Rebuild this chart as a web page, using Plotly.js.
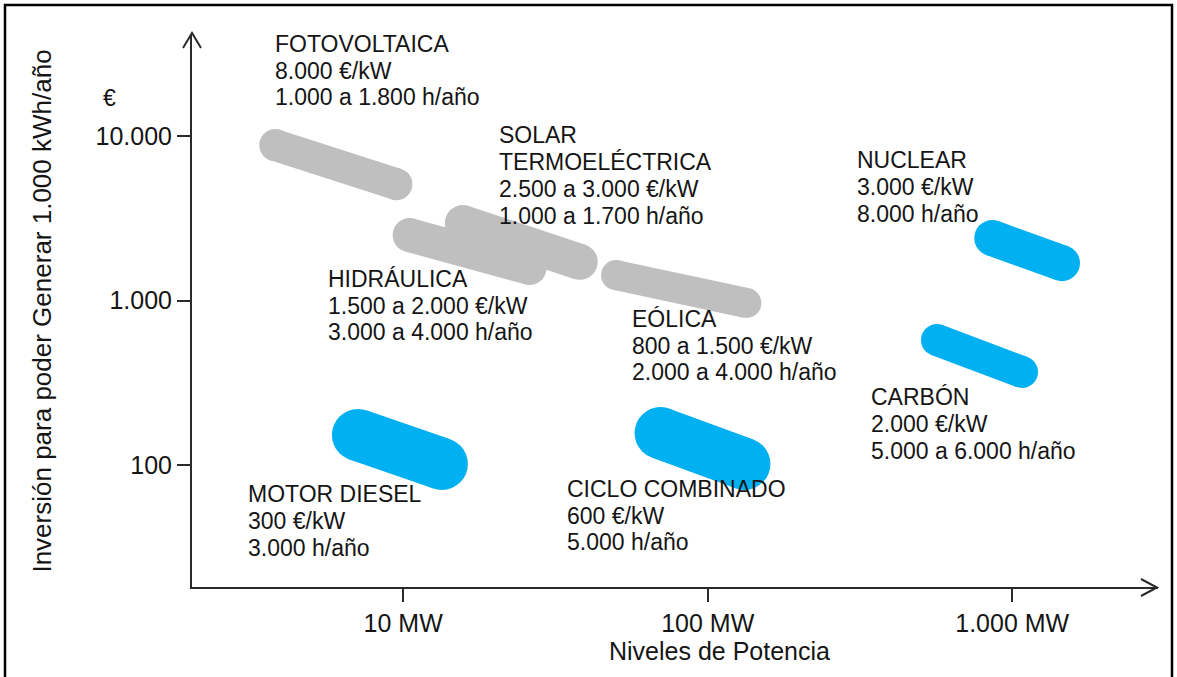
<!DOCTYPE html>
<html>
<head>
<meta charset="utf-8">
<script src="https://cdn.plot.ly/plotly-3.0.1.min.js"></script>
<style>html,body{margin:0;padding:0;background:#fff}#chart{width:1177px;height:677px}</style>
</head>
<body>
<div id="chart"></div>
<script>
// ---- data ----
const techNames = ['FOTOVOLTAICA', 'SOLAR\nTERMOELÉCTRICA', 'HIDRÁULICA', 'EÓLICA', 'NUCLEAR', 'CARBÓN', 'MOTOR DIESEL', 'CICLO COMBINADO'];
const costText = ['8.000 €/kW', '2.500 a 3.000 €/kW', '1.500 a 2.000 €/kW', '800 a 1.500 €/kW', '3.000 €/kW', '2.000 €/kW', '300 €/kW', '600 €/kW'];
const hoursText = ['1.000 a 1.800 h/año', '1.000 a 1.700 h/año', '3.000 a 4.000 h/año', '2.000 a 4.000 h/año', '8.000 h/año', '5.000 a 6.000 h/año', '3.000 h/año', '5.000 h/año'];
const techGroup = ['renovable', 'renovable', 'renovable', 'renovable', 'convencional', 'convencional', 'convencional', 'convencional'];
const powerStartMW = [3.8, 15.7, 10.5, 50, 860, 566, 7.1, 70];
const powerEndMW = [9.5, 38, 26, 134, 1457, 1077, 13.4, 132];
const investStart = [8800, 2960, 2500, 1430, 2400, 577, 153, 157];
const investEnd = [5100, 1720, 1580, 968, 1690, 369, 102, 102];
const xTickVals = [10, 100, 1000];
const xTickText = ['10 MW', '100 MW', '1.000 MW'];
const yTickVals = [100, 1000, 10000];
const yTickText = ['100', '1.000', '10.000'];
const xTitle = 'Niveles de Potencia';
const yTitle = 'Inversión para poder Generar 1.000 kWh/año';
const yUnit = '€';

// ---- styles / layout ----
const FONT = 'Liberation Sans, Arial, Helvetica, sans-serif';
const TXT = '#151515';
const AX = '#2a2a2a';
const groupColor = {renovable: '#BFBFBF', convencional: '#00B0F0'};
const bandWidth = [32, 36, 34, 30, 36, 32, 52, 52];
// label block positions in pixels (left x, baseline of first line)
const labelPos = [[275, 51.7], [499, 143.3], [328, 286.7], [632, 326.7], [857, 168.5], [871, 405.5], [248, 502.5], [566.7, 496.7]];
const LINE_H = 26.9, LFS = 23;

const W = 1177, H = 677;
const PL = 192, PR = 1158, PT = 35, PB = 587;
const px = v => (v - PL) / (PR - PL);
const py = v => (PB - v) / (PB - PT);

const traces = techNames.map((n, i) => ({
  type: 'scatter', mode: 'lines+markers',
  x: [powerStartMW[i], powerEndMW[i]],
  y: [investStart[i], investEnd[i]],
  line: {color: groupColor[techGroup[i]], width: bandWidth[i]},
  marker: {color: groupColor[techGroup[i]], size: bandWidth[i], line: {width: 0}},
  name: n.replace('\n', ' '), hoverinfo: 'skip', showlegend: false
}));

const annotations = [];
techNames.forEach((n, i) => {
  const lines = n.split('\n').concat([costText[i], hoursText[i]]);
  lines.forEach((t, k) => {
    const base = labelPos[i][1] + k * LINE_H;
    annotations.push({
      xref: 'paper', yref: 'paper', x: px(labelPos[i][0] - 2), y: py(base - 0.35 * LFS),
      xanchor: 'left', yanchor: 'middle', text: t, showarrow: false,
      font: {family: FONT, size: LFS, color: TXT}
    });
  });
});
annotations.push({xref: 'paper', yref: 'paper', x: px(109), y: py(97.5), xanchor: 'center', yanchor: 'middle',
  text: yUnit, showarrow: false, font: {family: FONT, size: 23, color: TXT}});
annotations.push({xref: 'paper', yref: 'paper', x: px(719), y: py(651), xanchor: 'center', yanchor: 'middle',
  text: xTitle, showarrow: false, font: {family: FONT, size: 25, color: TXT}});

const shapes = [
  // arrow heads
  {type: 'path', xref: 'paper', yref: 'paper', layer: 'above',
   path: `M${px(183)},${py(48)} L${px(192)},${py(33)} L${px(201)},${py(48)}`,
   line: {color: AX, width: 2}},
  {type: 'path', xref: 'paper', yref: 'paper', layer: 'above',
   path: `M${px(1141)},${py(579)} L${px(1157)},${py(587.5)} L${px(1141)},${py(596)}`,
   line: {color: AX, width: 2}},
  // frame
  {type: 'rect', xref: 'paper', yref: 'paper', x0: px(5), x1: px(1172), y0: py(5), y1: py(690),
   line: {color: '#000', width: 2.5}, fillcolor: 'rgba(0,0,0,0)'}
];

const layout = {
  width: W, height: H,
  margin: {l: PL, r: W - PR, t: PT, b: H - PB, pad: 0},
  paper_bgcolor: '#fff', plot_bgcolor: '#fff',
  showlegend: false, hovermode: false,
  font: {family: FONT, color: TXT},
  xaxis: {
    type: 'log', range: [0.3064, 3.4788], showgrid: false, zeroline: false,
    showline: true, linecolor: AX, linewidth: 2,
    ticks: 'outside', ticklen: 13, tickwidth: 2, tickcolor: AX,
    tickmode: 'array', tickvals: xTickVals, ticktext: xTickText,
    tickfont: {family: FONT, size: 25, color: TXT}
  },
  yaxis: {
    type: 'log', range: [1.2615, 4.613], showgrid: false, zeroline: false,
    showline: true, linecolor: AX, linewidth: 2,
    ticks: 'outside', ticklen: 13, tickwidth: 2, tickcolor: AX,
    tickmode: 'array', tickvals: yTickVals, ticktext: yTickText,
    tickfont: {family: FONT, size: 25, color: TXT},
    title: {text: yTitle, font: {family: FONT, size: 26, color: TXT}, standoff: 36}
  },
  annotations: annotations,
  shapes: shapes
};

Plotly.newPlot('chart', traces, layout, {displayModeBar: false, staticPlot: true});
</script>
</body>
</html>
